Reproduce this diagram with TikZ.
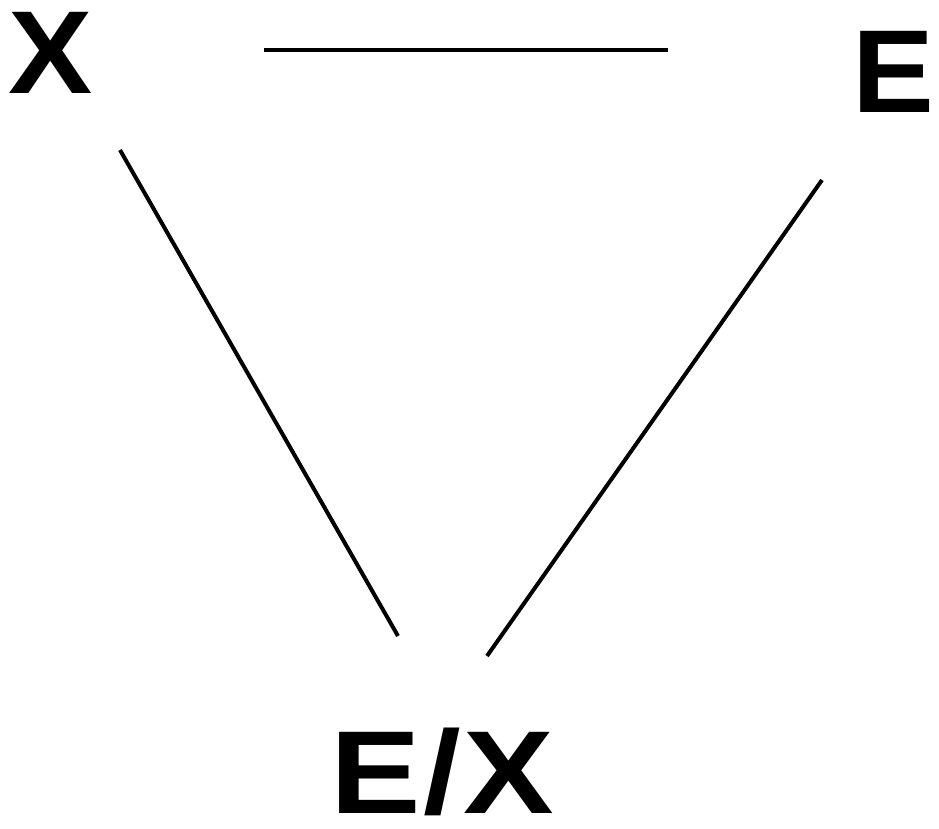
\documentclass[tikz,border=0pt]{standalone}
\usepackage{fontspec}
\usepackage{graphicx}
\setmainfont{Liberation Sans}
\begin{document}
\begin{tikzpicture}[x=1pt,y=-1pt,
  lbl/.style={inner sep=0pt,font=\fontsize{118}{118}\selectfont\bfseries},
  conn/.style={line width=4pt}]
\useasboundingbox[fill=white] (0,0) rectangle (939,828);
\node[lbl] (X) at (51,53) {\scalebox{1.07}[1]{X}};
\node[lbl] (E) at (893,72) {\scalebox{1.04}[1]{E}};
\node[lbl] (EX) at (442,772) {\scalebox{1.15}[1]{E\kern2pt/\kern2pt X}};
\coordinate (t1) at (264,50);
\coordinate (t2) at (668,50);
\coordinate (l1) at (120,150);
\coordinate (l2) at (398,636);
\coordinate (r1) at (822,180);
\coordinate (r2) at (487,656);
\draw[conn] (t1) -- (t2);
\draw[conn] (l1) -- (l2);
\draw[conn] (r1) -- (r2);
\end{tikzpicture}
\end{document}
